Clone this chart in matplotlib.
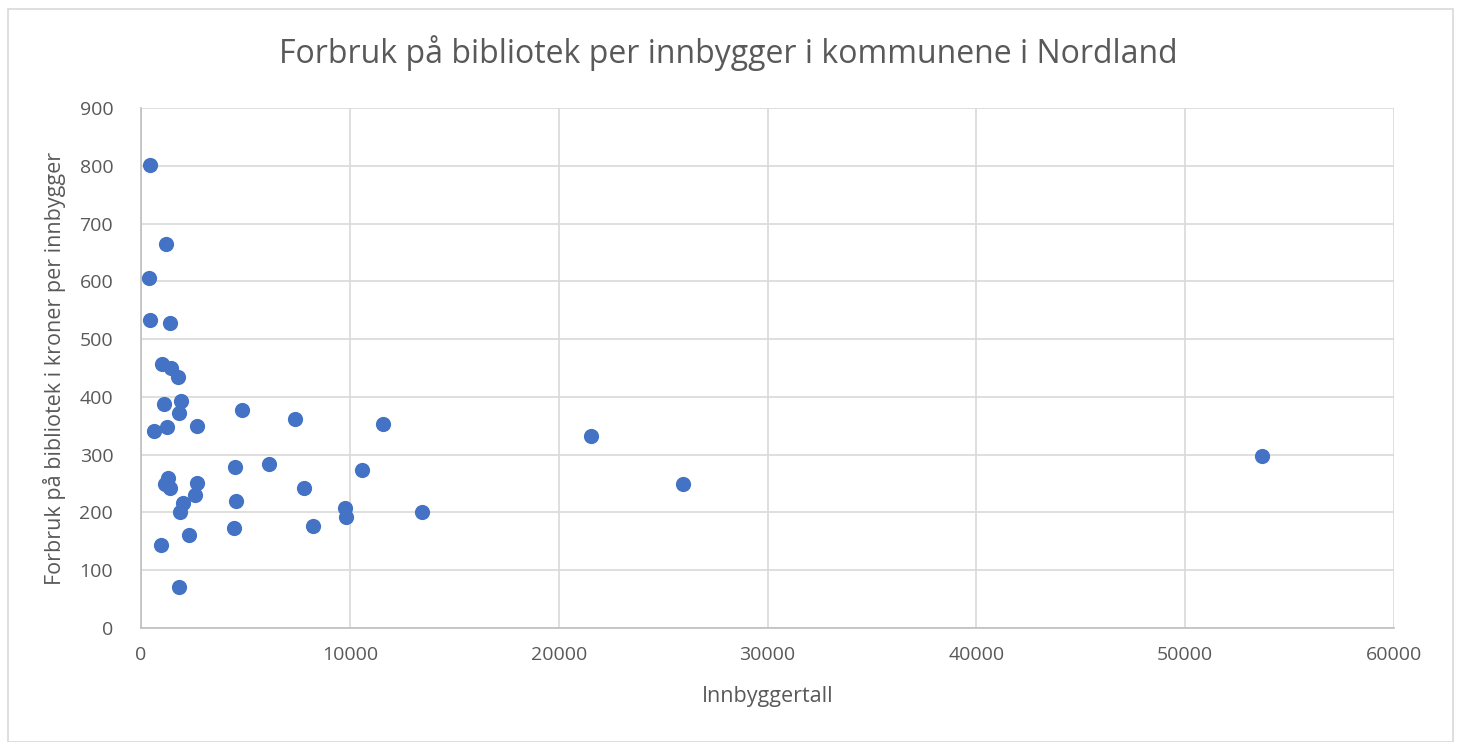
import matplotlib
matplotlib.use("Agg")
import matplotlib.pyplot as plt
from matplotlib.patches import Rectangle

innbyggere = [431, 1197, 383, 431, 1389, 1006, 1437, 1772, 1102, 1916, 1820, 623, 1245,
              2682, 4837, 7375, 11590, 21552, 53687, 4502, 6130, 10584,
              1293, 1149, 1389, 2682, 2586, 2011, 1868, 4550, 4454, 2299, 958, 1820,
              7806, 9770, 9818, 13458, 8238, 25958]
forbruk = [801, 664, 605, 533, 528, 457, 450, 434, 388, 393, 372, 341, 348,
           349, 377, 362, 353, 332, 298, 279, 284, 273,
           260, 249, 242, 251, 230, 216, 201, 220, 173, 161, 144, 71,
           242, 208, 192, 201, 176, 249]

title = "Forbruk på bibliotek per innbygger i kommunene i Nordland"
xlabel = "Innbyggertall"
ylabel = "Forbruk på bibliotek i kroner per innbygger"
xticks = [0, 10000, 20000, 30000, 40000, 50000, 60000]
yticks = [0, 100, 200, 300, 400, 500, 600, 700, 800, 900]

plt.rcParams['font.family'] = ['Open Sans', 'DejaVu Sans']
txt = '#595959'

fig = plt.figure(figsize=(14.57, 7.42), dpi=100)
fig.patches.append(Rectangle((8/1457, 0), 1445/1457, (742-9)/742, transform=fig.transFigure,
                             fill=False, edgecolor='#D9D9D9', linewidth=1.2))
ax = fig.add_axes([141/1457, 114/742, (1394-141)/1457, (628-108)/742])
ax.scatter(innbyggere, forbruk, s=120, color='#4472C4', zorder=3, linewidths=0)
ax.set_xlim(0, 60000)
ax.set_ylim(0, 900)
ax.set_xticks(xticks)
ax.set_yticks(yticks)
ax.grid(True, color='#D9D9D9', linewidth=1.2)
ax.set_axisbelow(True)
for s in ['top', 'right']:
    ax.spines[s].set_visible(False)
for s in ['left', 'bottom']:
    ax.spines[s].set_color('#BFBFBF')
    ax.spines[s].set_linewidth(1.2)
ax.tick_params(length=0, labelsize=14, colors=txt)
ax.tick_params(axis='x', pad=13)
ax.tick_params(axis='y', pad=20)
ax.set_xlabel(xlabel, fontsize=15.5, color=txt, labelpad=16)
ax.set_ylabel(ylabel, fontsize=15.5, color=txt, labelpad=10)
fig.text(0.5, 1 - 53/742, title, ha='center', va='center', fontsize=23, color=txt)
fig.savefig("out.png", dpi=100)
